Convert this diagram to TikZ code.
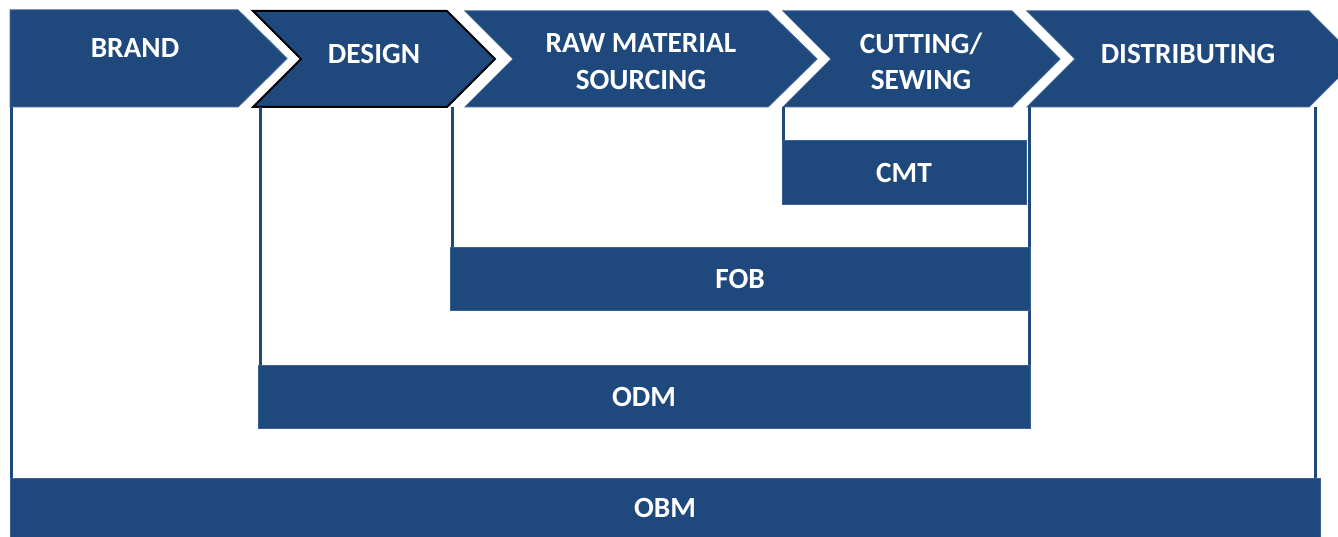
\documentclass[tikz,border=0pt]{standalone}
\usepackage{fontspec}
\setmainfont{Carlito}
\definecolor{navy}{HTML}{1F497D}
\definecolor{navyedge}{HTML}{3B6096}
\begin{document}
\begin{tikzpicture}[x=1pt,y=-1pt,
  chev/.style={fill=navy,draw=navyedge,line width=1pt,line join=miter},
  chevhi/.style={fill=navy,draw=black,line width=2pt,line join=miter},
  lbl/.style={text=white,font=\fontsize{29.3}{36.5}\selectfont\bfseries,align=center,inner sep=0pt},
  box/.style={rectangle,fill=navy,draw=navyedge,line width=1pt,inner sep=0pt,
    text=white,font=\fontsize{29.3}{35}\selectfont\bfseries},
  link/.style={draw=navy,line width=3pt}]
\useasboundingbox (0,0) rectangle (1338,537);

% process chevrons
\path[chev] (10,10) -- (238,10) -- (287,58.5) -- (238,107) -- (10,107) -- cycle;
\path[chevhi] (253,11) -- (447,11) -- (495,59) -- (447,107) -- (253,107) -- (301,59) -- cycle;
\path[chev] (465,11) -- (768,11) -- (817,59) -- (768,107) -- (465,107) -- (513,59) -- cycle;
\path[chev] (783,11) -- (1012,11) -- (1060,59) -- (1012,107) -- (783,107) -- (831,59) -- cycle;
\path[chev] (1027,11) -- (1309,11) -- (1357,59) -- (1309,107) -- (1027,107) -- (1075,59) -- cycle;
\coordinate (base) at (0,107);

\node[lbl] (brand) at (135,48) {BRAND};
\node[lbl] (design) at (374,54) {DESIGN};
\node[lbl] (raw) at (641,61.5) {RAW MATERIAL\\SOURCING};
\node[lbl] (cut) at (921,61.5) {CUTTING/\\SEWING};
\node[lbl] (dist) at (1188,54) {DISTRIBUTING};

% business model bars
\node[box,minimum width=244pt,minimum height=64pt] (cmt) at (904,173) {CMT};
\node[box,minimum width=580pt,minimum height=62pt] (fob) at (740,279) {FOB};
\node[box,minimum width=772pt,minimum height=63pt] (odm) at (644,396.5) {ODM};
\node[box,minimum width=1310pt,minimum height=60pt] (obm) at (665,508) {OBM};

% brackets from the process row down to each bar
\draw[link] ([xshift=1.5pt]cmt.north west) -- ([xshift=1.5pt]cmt.north west |- base);
\draw[link] ([xshift=2.5pt]fob.north west) -- ([xshift=2.5pt]fob.north west |- base);
\draw[link] ([xshift=-1.5pt]fob.north east) -- ([xshift=-1.5pt]fob.north east |- base);
\draw[link] ([xshift=3pt]odm.north west) -- ([xshift=3pt]odm.north west |- base);
\draw[link] ([xshift=-1.5pt]odm.north east) -- ([xshift=-1.5pt]fob.south east);
\draw[link] ([xshift=1.5pt]obm.north west) -- ([xshift=1.5pt]obm.north west |- base);
\draw[link] ([xshift=-5pt]obm.north east) -- ([xshift=-5pt]obm.north east |- base);
\end{tikzpicture}
\end{document}
